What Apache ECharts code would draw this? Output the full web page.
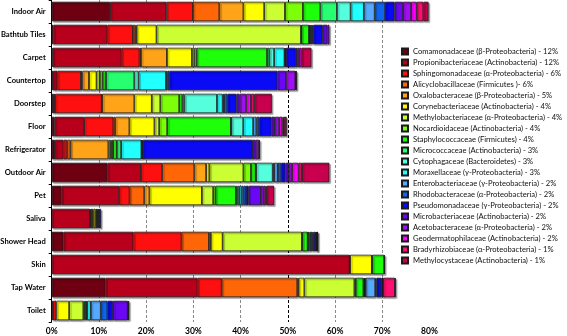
<!DOCTYPE html>
<html>
<head>
<meta charset="utf-8">
<script src="https://cdn.jsdelivr.net/npm/echarts/dist/echarts.min.js"></script>
<style>
html,body{margin:0;padding:0;background:#fff;}
#chart{width:567px;height:336px;}
</style>
</head>
<body>
<div id="chart"></div>
<script>
// Categories (top to bottom)
const categories = ["Indoor Air","Bathtub Tiles","Carpet","Countertop","Doorstep","Floor","Refrigerator","Outdoor Air","Pet","Saliva","Shower Head","Skin","Tap Water","Toilet"];

// Families (legend order)
const families = [
  "Comamonadaceae (β-Proteobacteria) - 12%",
  "Propionibacteriaceae (Actinobacteria) - 12%",
  "Sphingomonadaceae (α-Proteobacteria) - 6%",
  "Alicyclobacillaceae (Firmicutes )- 6%",
  "Oxalobacteraceae (β-Proteobacteria) - 5%",
  "Corynebacteriaceae (Actinobacteria) - 4%",
  "Methylobacteriaceae (α-Proteobacteria) - 4%",
  "Nocardioidaceae (Actinobacteria) - 4%",
  "Staphylococcaceae (Firmicutes) - 4%",
  "Micrococcaceae (Actinobacteria) - 3%",
  "Cytophagaceae (Bacteroidetes) - 3%",
  "Moraxellaceae (γ-Proteobacteria) - 3%",
  "Enterobacteriaceae (γ-Proteobacteria) - 2%",
  "Rhodobacteraceae (α-Proteobacteria) - 2%",
  "Pseudomonadaceae (γ-Proteobacteria) - 2%",
  "Microbacteriaceae (Actinobacteria) - 2%",
  "Acetobacteraceae (α-Proteobacteria) - 2%",
  "Geodermatophilaceae (Actinobacteria) - 2%",
  "Bradyrhizobiaceae (α-Proteobacteria) - 1%",
  "Methylocystaceae (Actinobacteria) - 1%"
];

const familyColors = ["#6e0012","#b8001c","#ff1010","#ff6608","#ffa318","#ffff00","#ccff33","#7cff08","#1eff0a","#28ff70","#55ffdd","#22ffff","#55aaff","#0f66ee","#0a0af5","#6a08f5","#a010f0","#ff00ff","#ff1070","#c8004e"];

// Relative abundance (%) per category, in family order
const indoorAir    = [12.35,11.95,5.6,5.6,5.1,4.4,4.4,3.8,3.7,3.5,2.9,2.8,2.3,2.2,2.0,1.8,1.7,1.2,1.4,1.1];
const bathtubTiles = [0.35,11.45,5.4,0.5,0.3,4.2,30.6,0.1,1.6,0.1,0.2,0.2,0.2,0.2,2.0,1.0,0.4,0,0,0];
const carpet       = [0.2,14.6,3.8,0.3,5.5,5.3,0.5,0.5,14.9,0.5,1.0,2.2,0.15,0.15,2.1,0.3,0.4,0.5,0,2.1];
const countertop   = [0.3,0.9,5.0,0.3,1.4,1.6,0.7,0.6,0.7,6.0,0.9,5.8,0.3,0.4,22.9,1.8,2.0,0,0.1,0.2];
const doorstep     = [0.3,0.4,9.9,0.1,6.8,3.7,1.8,4.0,0.7,0.4,6.9,1.2,0.3,0.7,1.9,0.7,1.4,1.0,0.7,3.7];
const floor        = [0.56,6.3,6.2,0.4,3.0,5.3,1.0,1.7,13.5,0.1,2.5,2.1,0.7,0.6,2.6,0.7,0.9,0.7,0.3,0.6];
const refrigerator = [0.7,1.8,0.8,0.7,8.0,0.4,0.3,0.3,0.8,0.9,0,4.3,0.1,0.2,23.3,0.6,0.7,0,0,0.2];
const outdoorAir   = [11.8,7.1,4.5,6.8,2.5,0.7,7.2,1.6,1.0,0.1,3.5,0.3,0.8,0.7,0.9,0.7,0.7,1.4,0.7,5.8];
const pet          = [2.1,12.2,2.2,3.1,1.1,11.1,2.4,0.5,4.3,0.3,0.4,0.5,0.4,0.5,0.6,2.6,0.6,0.4,0.2,1.6];
const saliva       = [0,8.1,0.15,0.3,0.3,0.4,0.3,0.1,0.2,0,0,0,0,0.2,0.4,0,0,0,0,0];
const showerHead   = [2.5,14.8,10.2,5.8,0.4,2.5,16.8,0.1,1.1,0.1,0.3,0.3,0.3,0.2,0.4,0.2,0.1,0.1,0.05,0.1];
const skin         = [0,63.1,0,0,0.1,4.6,0.1,0,2.5,0,0,0,0,0,0.1,0,0,0,0,0];
const tapWater     = [11.4,19.5,5.1,16.0,0.3,1.2,10.6,0.3,1.6,0.2,0.1,0.2,2.0,0.3,1.0,0.2,0.1,0.1,2.5,0.1];
const toilet       = [0,0.3,0.7,0,0,2.7,3.0,0,0.3,0.3,0.2,0.8,2.1,1.4,1.2,3.1,0,0.1,0.2,0];

const xTicks = [0,10,20,30,40,50,60,70,80];

const rows = [indoorAir,bathtubTiles,carpet,countertop,doorstep,floor,refrigerator,outdoorAir,pet,saliva,showerHead,skin,tapWater,toilet];

const FONT = "Lato,'Liberation Sans',sans-serif";

const series = families.map((name, fi) => ({
  name: name,
  type: 'bar',
  stack: 'total',
  barWidth: 19.5,
  data: rows.map(r => (r[fi] > 0 ? r[fi] : null)),
  itemStyle: {
    color: familyColors[fi],
    borderColor: '#1a1a1a',
    borderWidth: 0.8,
    shadowColor: 'rgba(0,0,0,0.35)',
    shadowOffsetX: 1.5,
    shadowOffsetY: 1.5,
    shadowBlur: 1
  },
  emphasis: {disabled: true}
}));

const chart = echarts.init(document.getElementById('chart'), null, {renderer: 'canvas'});
chart.setOption({
  animation: false,
  backgroundColor: '#ffffff',
  grid: {left: 51.7, top: 0, right: 137.5, bottom: 14, containLabel: false, outerBoundsMode: 'none'},
  xAxis: {
    type: 'value',
    min: xTicks[0],
    max: xTicks[xTicks.length - 1],
    interval: 10,
    axisLine: {show: false},
    axisTick: {show: false},
    axisLabel: {
      formatter: '{value}%',
      fontFamily: FONT,
      fontWeight: 'bold',
      fontSize: 8.5,
      color: '#000',
      margin: 5
    },
    splitLine: {
      show: true,
      showMinLine: true,
      showMaxLine: false,
      lineStyle: {
        color: ['#000','#8a8a8a','#8a8a8a','#8a8a8a','#8a8a8a','#000','#8a8a8a','#8a8a8a','#8a8a8a'],
        width: 1,
        type: [3, 2]
      }
    }
  },
  yAxis: {
    type: 'category',
    inverse: true,
    data: categories,
    axisLine: {show: true, lineStyle: {color: '#000', width: 1}},
    axisTick: {show: true, length: 3, lineStyle: {color: '#000'}},
    axisLabel: {
      fontFamily: FONT,
      fontWeight: 'bold',
      fontSize: 7.6,
      color: '#000',
      margin: 6
    }
  },
  legend: {
    orient: 'vertical',
    left: 396,
    top: 41,
    itemWidth: 6,
    itemHeight: 6,
    itemGap: 0,
    icon: 'rect',
    selectedMode: false,
    data: families,
    textStyle: {
      fontFamily: FONT,
      fontSize: 7.6,
      lineHeight: 11,
      color: '#111'
    }
  },
  series: series
});
</script>
</body>
</html>
